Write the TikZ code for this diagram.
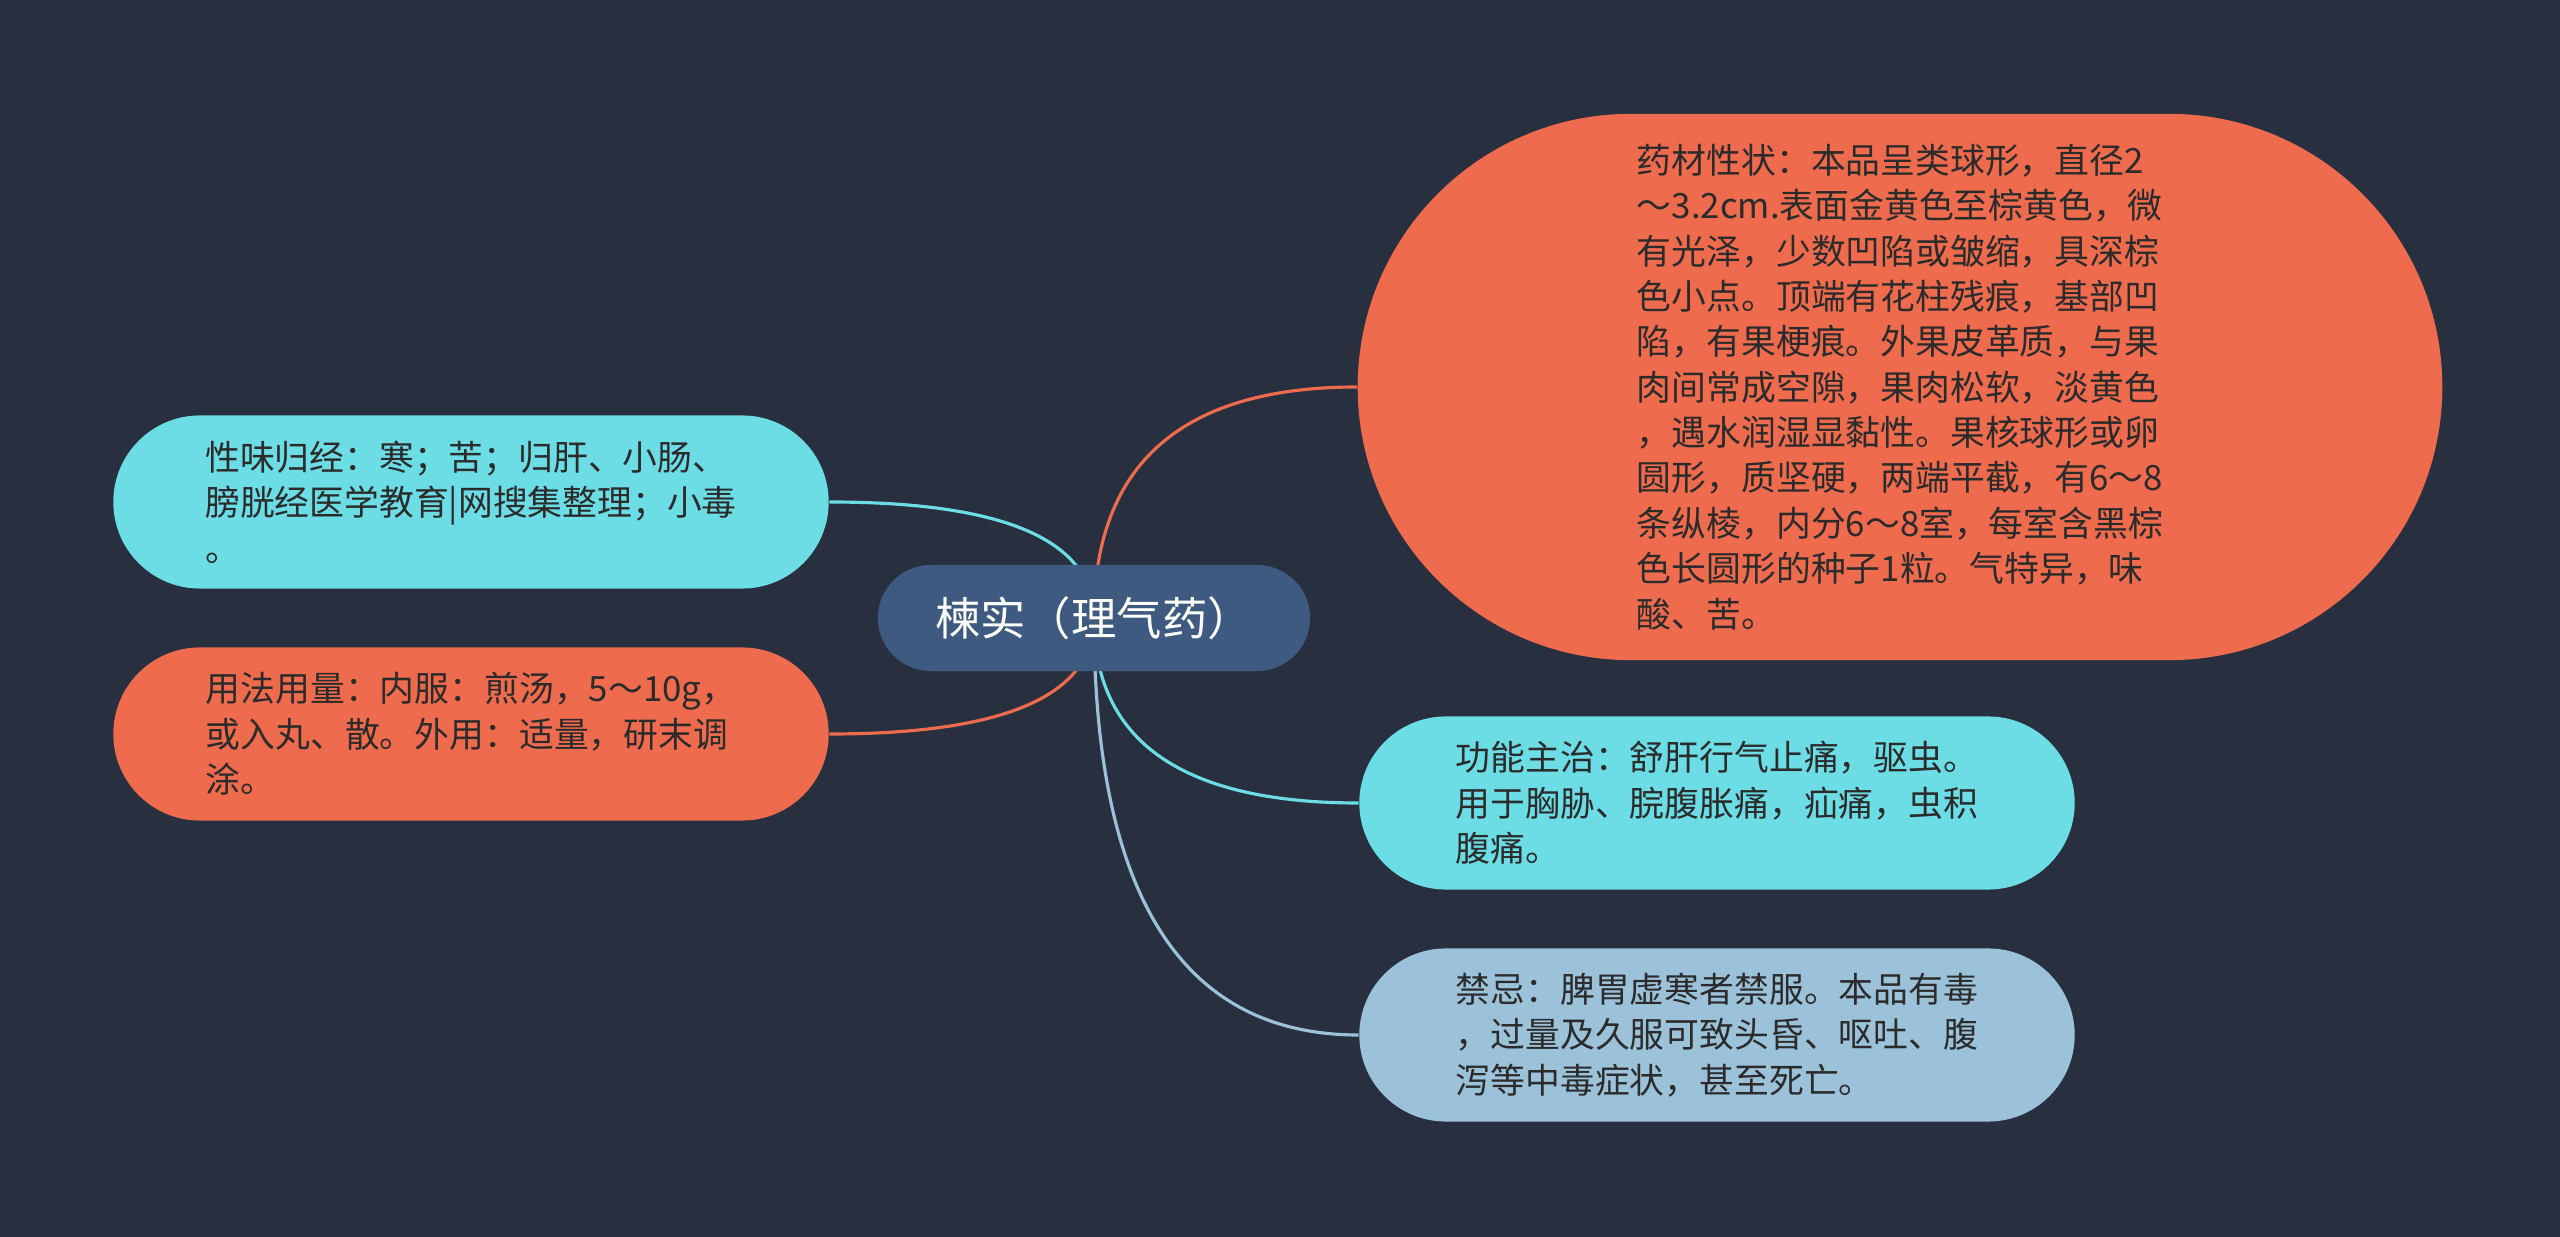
\documentclass[tikz,border=0pt]{standalone}
\usepackage{fontspec}
\setmainfont{Noto Sans CJK SC}
\usepackage{tikz}
\usetikzlibrary{calc}

\definecolor{bgcol}{HTML}{283040}
\definecolor{rootcol}{HTML}{3E5A80}
\definecolor{orangecol}{HTML}{EE6B4D}
\definecolor{cyancol}{HTML}{6CDDE4}
\definecolor{bluecol}{HTML}{9CC2DA}
\definecolor{textcol}{HTML}{2B2B2B}

\pgfdeclarelayer{bg}
\pgfdeclarelayer{edges}
\pgfsetlayers{bg,edges,main}

\begin{document}
\begin{tikzpicture}
[
x=0.01cm, y=-0.01cm,
rootbox/.style={rectangle, fill=rootcol, text=white, inner sep=0pt, minimum width=4.32cm, minimum height=1.06cm, rounded corners=0.53cm, font=\fontsize{12.9pt}{14pt}\selectfont},
leafbox/.style={rectangle, text=textcol, inner sep=0pt, align=left, minimum width=7.15cm, minimum height=1.73cm, rounded corners=0.865cm, font=\fontsize{9.9pt}{12.9pt}\selectfont},
bigbox/.style={leafbox, minimum width=10.84cm, minimum height=5.46cm, rounded corners=2.73cm},
mmlink/.style={line width=0.9pt, to path={.. controls ($(\tikztostart)!2/3!(\tikztostart |- \tikztotarget)$) and ($(\tikztotarget)!2/3!(\tikztostart |- \tikztotarget)$) .. (\tikztotarget)}},
]
\begin{pgfonlayer}{bg}
\fill[bgcol] (0,0) rectangle (2560,1237);
\end{pgfonlayer}
\useasboundingbox (0,0) rectangle (2560,1237);

\node at (1094,618) [rootbox]      (root)     {楝实（理气药）};
\node at (1900,387) [bigbox, fill=orangecol]      (shape)     {药材性状：本品呈类球形，直径2\\～3.2cm.表面金黄色至棕黄色，微\\有光泽，少数凹陷或皱缩，具深棕\\色小点。顶端有花柱残痕，基部凹\\陷，有果梗痕。外果皮革质，与果\\肉间常成空隙，果肉松软，淡黄色\\，遇水润湿显黏性。果核球形或卵\\圆形，质坚硬，两端平截，有6～8\\条纵棱，内分6～8室，每室含黑棕\\色长圆形的种子1粒。气特异，味\\酸、苦。};
\node at (471,502) [leafbox, fill=cyancol]      (taste)     {性味归经：寒；苦；归肝、小肠、\\膀胱经医学教育|网搜集整理；小毒\\。};
\node at (471,734) [leafbox, fill=orangecol]      (usage)     {用法用量：内服：煎汤，5～10g，\\或入丸、散。外用：适量，研末调\\涂。};
\node at (1717,803) [leafbox, fill=cyancol]      (effect)     {功能主治：舒肝行气止痛，驱虫。\\用于胸胁、脘腹胀痛，疝痛，虫积\\腹痛。};
\node at (1717,1035) [leafbox, fill=bluecol]      (taboo)     {禁忌：脾胃虚寒者禁服。本品有毒\\，过量及久服可致头昏、呕吐、腹\\泻等中毒症状，甚至死亡。};

\begin{pgfonlayer}{edges}
\draw[mmlink, orangecol] (root.center) to (shape.west);
\draw[mmlink, cyancol] (root.center) to (taste.east);
\draw[mmlink, orangecol] (root.center) to (usage.east);
\draw[mmlink, cyancol] (root.center) to (effect.west);
\draw[mmlink, bluecol] (root.center) to (taboo.west);
\end{pgfonlayer}
\end{tikzpicture}
\end{document}
